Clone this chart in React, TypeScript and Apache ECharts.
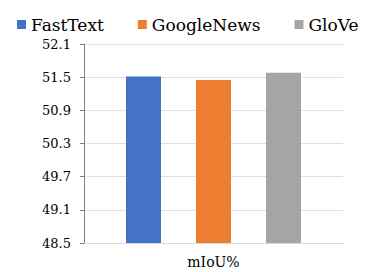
import React, { useEffect, useRef } from "react";
import * as echarts from "echarts";

const categories = ["mIoU%"];
const seriesNames = ["FastText", "GoogleNews", "GloVe"];
const fastText = [51.51];
const googleNews = [51.45];
const glove = [51.58];
const yTickLabels = ["48.5", "49.1", "49.7", "50.3", "50.9", "51.5", "52.1"];
const colors = ["#4472C4", "#ED7D31", "#A5A5A5"];

const FONT = "DejaVu Serif";

export default function App() {
  const ref = useRef<HTMLDivElement>(null);
  useEffect(() => {
    if (!ref.current) return;
    const chart = echarts.init(ref.current, undefined, { renderer: "svg" });
    const yMin = parseFloat(yTickLabels[0]);
    const yMax = parseFloat(yTickLabels[yTickLabels.length - 1]);
    const step = parseFloat(yTickLabels[1]) - yMin;
    const values = [fastText, googleNews, glove];
    chart.setOption({
      animation: false,
      color: colors,
      textStyle: { fontFamily: FONT },
      legend: {
        data: seriesNames,
        left: 12,
        top: 11,
        icon: "rect",
        itemWidth: 9,
        itemHeight: 9,
        itemGap: 34,
        textStyle: { fontSize: 17, color: "#000", fontFamily: FONT },
      },
      grid: { left: 84, right: 37, top: 44, bottom: 29, containLabel: false },
      xAxis: {
        type: "category",
        data: categories,
        axisLine: { show: true, lineStyle: { color: "#D9D9D9", width: 1 } },
        axisTick: { show: false },
        axisLabel: { fontSize: 14, color: "#000", margin: 12, fontFamily: FONT },
      },
      yAxis: [
        {
          type: "value",
          min: yMin,
          max: yMax,
          show: false,
          splitLine: { show: false },
        },
        {
          type: "value",
          position: "left",
          min: 0,
          max: yMax - yMin,
          interval: step,
          axisLine: { show: true, lineStyle: { color: "#7F7F7F", width: 1 } },
          axisTick: { show: true, length: 4, lineStyle: { color: "#7F7F7F" } },
          axisLabel: {
            fontSize: 13,
            color: "#000",
            margin: 13,
            fontFamily: FONT,
            formatter: (_v: number, i: number) => yTickLabels[i] ?? "",
          },
          splitLine: { show: true, lineStyle: { color: "#E0E0E0", width: 1 } },
        },
      ],
      series: seriesNames.map((name, i) => ({
        name,
        type: "bar",
        yAxisIndex: 0,
        data: values[i],
        barWidth: 35,
        barGap: "100%",
        itemStyle: { color: colors[i] },
      })),
    });
    return () => chart.dispose();
  }, []);
  return <div ref={ref} style={{ width: 380, height: 272, position: "absolute", left: 0, top: 0 }} />;
}
